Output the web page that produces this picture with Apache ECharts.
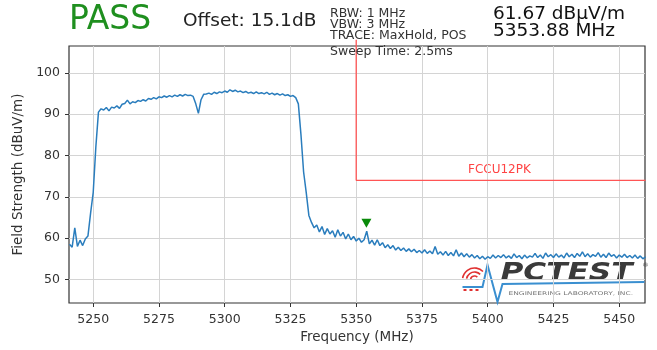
<!DOCTYPE html>
<html>
<head>
<meta charset="utf-8">
<script src="https://cdn.jsdelivr.net/npm/echarts@6/dist/echarts.min.js"></script>
<style>
  html, body { margin: 0; padding: 0; background: #fff; }
  #chart { width: 657px; height: 350px; }
</style>
</head>
<body>
<div id="chart"></div>
<script>
// trace, one point per MHz starting at 5241
const freqStart = 5241;
const traceLevels = [
  58.5, 57.8, 62.5, 58.0, 59.5, 58.2, 59.8, 60.5, 66.0, 71.0,   // 5241-5250
  82.0, 90.5, 91.3, 91.0, 91.6, 90.8, 91.7, 91.5, 92.0, 91.4,   // 5251-5260
  92.4, 92.6, 93.4, 92.5, 93.0, 92.8, 93.3, 93.1, 93.5, 93.2,
  93.8, 93.6, 94.0, 93.7, 94.2, 94.0, 94.4, 94.1, 94.5, 94.2,
  94.6, 94.3, 94.7, 94.4, 94.8, 94.5, 94.6, 94.3, 92.5, 90.2,   // 5281-5290
  93.5, 94.8, 94.9, 95.1, 94.8, 95.3, 95.0, 95.4, 95.2, 95.6,
  95.3, 95.9, 95.5, 95.8, 95.4, 95.6, 95.2, 95.5, 95.1, 95.3,
  95.0, 95.4, 95.0, 95.2, 94.9, 95.3, 94.8, 95.1, 94.7, 95.0,
  94.6, 94.9, 94.5, 94.7, 94.3, 94.5, 94.0, 92.5, 85.0, 76.0,   // 5321-5330
  71.0, 65.5, 63.8, 62.5, 63.2, 61.5, 62.8, 60.9, 62.3, 61.0,
  61.8, 60.2, 62.0, 60.5, 61.4, 59.8, 61.0, 59.6, 60.4, 59.3,
  60.0, 59.0, 59.6, 61.67, 58.6, 59.5, 58.3, 59.6, 58.2, 58.9, // 5351-5360
  57.7, 58.4, 57.5, 58.2, 57.1, 57.8, 57.0, 57.6, 56.8, 57.4,
  56.7, 57.3, 56.5, 57.0, 56.4, 57.2, 56.3, 56.9, 56.2, 58.0,
  56.1, 56.7, 55.9, 56.8, 55.8, 56.5, 55.7, 57.2, 55.6, 56.4,
  55.5, 56.2, 55.4, 56.0, 55.2, 55.8, 55.0, 55.6, 54.9, 55.5,   // 5391-5400
  55.1, 55.9, 55.2, 55.8, 55.3, 56.0, 55.2, 55.7, 55.1, 56.2,
  55.3, 55.8, 55.0, 55.9, 55.2, 55.7, 55.4, 56.3, 55.3, 55.9,
  55.1, 56.4, 55.5, 56.0, 55.3, 56.2, 55.4, 55.9, 55.2, 56.4,
  55.5, 56.1, 55.3, 56.3, 55.6, 56.7, 55.5, 56.2, 55.4, 56.0,
  55.6, 56.5, 55.4, 56.1, 55.3, 56.4, 55.6, 56.0, 55.2, 55.9,   // 5441-5450
  55.4, 56.1, 55.3, 55.8, 55.2, 55.9, 55.1, 55.7, 55.0, 55.5
];

// FCC limit mask
const limitFreq = [5350, 5350, 5460];
const limitLevel = [108, 74, 74];
const limitName = 'FCCU12PK';

// marker
const markerFreq = 5353.88;
const markerLevel = 61.67;

const xTicks = [5250, 5275, 5300, 5325, 5350, 5375, 5400, 5425, 5450];
const yTicks = [50, 60, 70, 80, 90, 100];

const traceData = traceLevels.map((v, i) => [freqStart + i, v]);
const limitData = limitFreq.map((f, i) => [f, limitLevel[i]]);

const font = 'DejaVu Sans';
const chart = echarts.init(document.getElementById('chart'), null, { renderer: 'canvas' });

const option = {
  animation: false,
  textStyle: { fontFamily: font },
  grid: {
    left: 69, right: 12, top: 46, bottom: 47,
    show: true, borderColor: '#333', borderWidth: 1.2, backgroundColor: 'transparent'
  },
  xAxis: {
    type: 'value',
    min: 5240.8, max: 5459.8,
    name: 'Frequency (MHz)',
    nameLocation: 'middle',
    nameGap: 27,
    nameTextStyle: { fontSize: 13.5, color: '#333', fontFamily: font },
    axisLine: { show: false },
    axisTick: { show: true, length: 4, customValues: xTicks, lineStyle: { color: '#333' } },
    axisLabel: { fontSize: 12.5, color: '#333', fontFamily: font, margin: 10, customValues: xTicks, formatter: v => String(v) },
    splitLine: { show: true, lineStyle: { color: '#d4d4d4', width: 1 } }
  },
  yAxis: {
    type: 'value',
    min: 44.3, max: 106.5,
    name: 'Field Strength (dBuV/m)',
    nameLocation: 'middle',
    nameRotate: 90,
    nameGap: 39,
    nameTextStyle: { fontSize: 13.5, color: '#333', fontFamily: font },
    axisLine: { show: false },
    axisTick: { show: true, length: 4, customValues: yTicks, lineStyle: { color: '#333' } },
    axisLabel: { fontSize: 12.5, color: '#333', fontFamily: font, margin: 9, customValues: yTicks, formatter: v => String(v) },
    splitLine: { show: true, lineStyle: { color: '#d4d4d4', width: 1 } }
  },
  series: [
    {
      name: 'Trace',
      type: 'line',
      data: traceData,
      showSymbol: false,
      lineStyle: { color: '#2a7dbd', width: 1.5 },
      z: 3,
      markPoint: {
        symbol: 'triangle',
        symbolRotate: 180,
        symbolSize: [10, 9],
        symbolOffset: [0, -8],
        itemStyle: { color: '#0a8a0a' },
        label: { show: false },
        data: [{ coord: [markerFreq, markerLevel] }]
      }
    },
    {
      name: limitName,
      type: 'line',
      data: limitData,
      showSymbol: false,
      clip: false,
      lineStyle: { color: '#ff5555', width: 1.3 },
      z: 2
    }
  ],
  graphic: [
    { type: 'text', left: 69, top: 4, style: { text: 'PASS', font: '33px "DejaVu Sans"', fill: '#1f8f1f' } },
    { type: 'text', left: 183, top: 12, style: { text: 'Offset: 15.1dB', font: '18.5px "DejaVu Sans"', fill: '#222' } },
    { type: 'text', left: 330, top: 7, style: { text: 'RBW: 1 MHz', font: '12.5px "DejaVu Sans"', fill: '#333' } },
    { type: 'text', left: 330, top: 18, style: { text: 'VBW: 3 MHz', font: '12.5px "DejaVu Sans"', fill: '#333' } },
    { type: 'text', left: 330, top: 29, style: { text: 'TRACE: MaxHold, POS', font: '12.5px "DejaVu Sans"', fill: '#333' } },
    { type: 'text', left: 330, top: 45, z: 100, style: { text: 'Sweep Time: 2.5ms', font: '12.5px "DejaVu Sans"', fill: '#333' } },
    { type: 'text', left: 493, top: 5, style: { text: '61.67 dB\u00b5V/m', font: '18.5px "DejaVu Sans"', fill: '#111' } },
    { type: 'text', left: 493, top: 22, style: { text: '5353.88 MHz', font: '18.5px "DejaVu Sans"', fill: '#111' } },
    { type: 'text', left: 468, top: 164, style: { text: limitName, font: '12px "DejaVu Sans"', fill: '#ff4444' } },
    // PCTEST logo
    {
      type: 'group', left: 460, top: 262, z: 50,
      children: [
        { type: 'arc', shape: { cx: 14, cy: 18, r: 4, startAngle: Math.PI * 1.05, endAngle: Math.PI * 1.75 }, style: { stroke: '#e03030', lineWidth: 1.6, fill: null } },
        { type: 'arc', shape: { cx: 14, cy: 18, r: 8, startAngle: Math.PI * 1.05, endAngle: Math.PI * 1.75 }, style: { stroke: '#e03030', lineWidth: 1.6, fill: null } },
        { type: 'arc', shape: { cx: 14, cy: 18, r: 12, startAngle: Math.PI * 1.05, endAngle: Math.PI * 1.75 }, style: { stroke: '#e03030', lineWidth: 1.6, fill: null } },
        { type: 'rect', shape: { x: 3, y: 27, width: 3, height: 2 }, style: { fill: '#e03030' } },
        { type: 'rect', shape: { x: 9, y: 27, width: 3, height: 2 }, style: { fill: '#e03030' } },
        { type: 'rect', shape: { x: 15, y: 27, width: 3, height: 2 }, style: { fill: '#e03030' } },
        { type: 'polyline', shape: { points: [[2, 25], [22, 25], [27, 3], [37, 40], [42, 22], [184, 20]] }, style: { stroke: '#3a8fd0', lineWidth: 2, fill: null } },
        { type: 'text', x: 40, y: 0, scaleX: 1.3, style: { text: 'PCTEST', font: 'italic bold 24px "DejaVu Sans"', fill: '#3a3a3a' } },
        { type: 'text', x: 182, y: 0, style: { text: '\u00ae', font: '6px "DejaVu Sans"', fill: '#3a3a3a' } },
        { type: 'text', x: 48, y: 29, scaleX: 1.5, style: { text: 'ENGINEERING LABORATORY, INC.', font: '5px "DejaVu Sans"', fill: '#777' } }
      ]
    }
  ]
};

chart.setOption(option);
</script>
</body>
</html>
